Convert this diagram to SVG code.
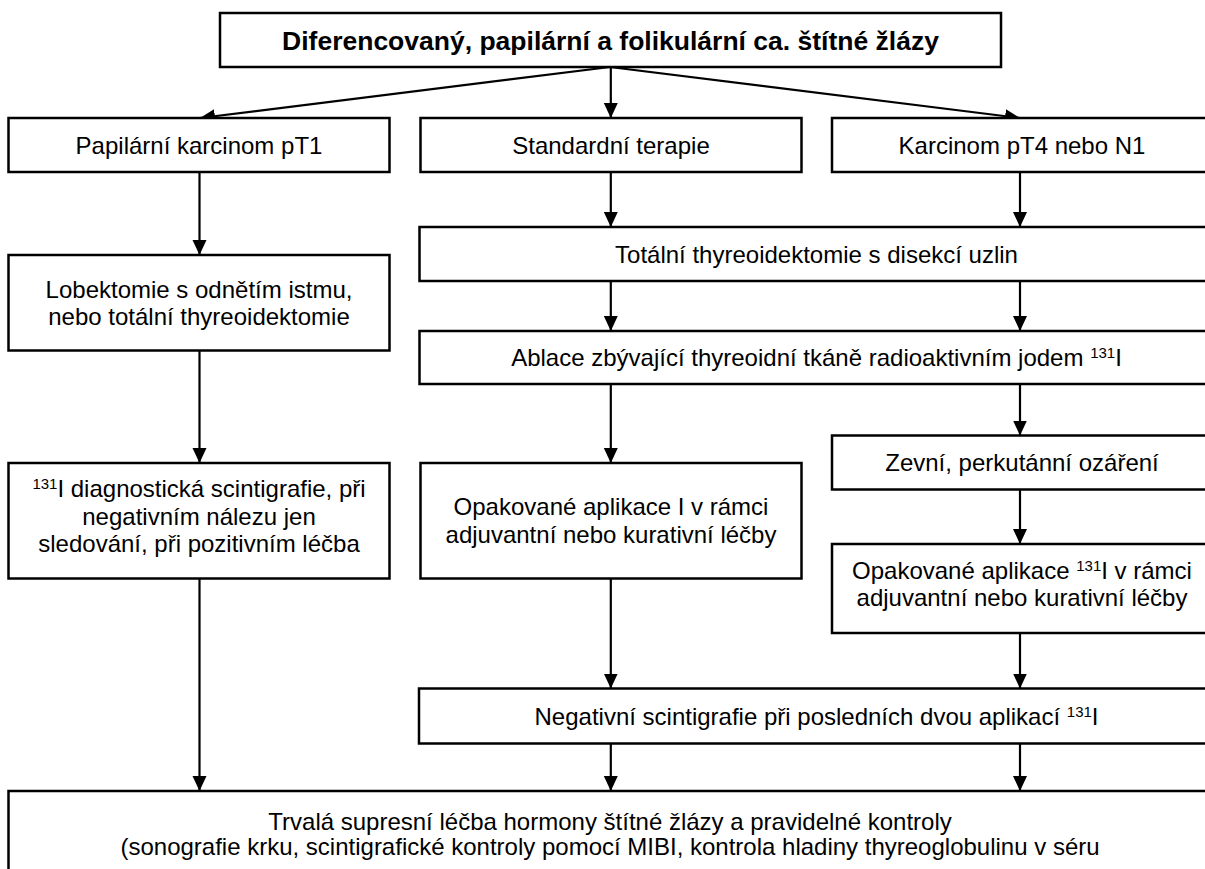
<svg xmlns="http://www.w3.org/2000/svg" width="1205" height="869" viewBox="0 0 1205 869">
<style>
.box{fill:#fff;stroke:#000;stroke-width:2.5}
.t{font-family:"Liberation Sans",Arial,sans-serif;font-size:24px;fill:#000;text-anchor:middle}
.b{font-weight:bold;font-size:26.5px}
.sup{font-size:15px}
.c{stroke:#000;stroke-width:2.2;fill:none;marker-end:url(#ah)}
</style>
<defs>
<marker id="ah" markerUnits="userSpaceOnUse" markerWidth="16" markerHeight="15" refX="15" refY="7" orient="auto">
<path d="M0,0 L15,7 L0,14 z" fill="#000"/>
</marker>
</defs>
<rect width="1205" height="869" fill="#fff"/>
<g id="connectors">
<line class="c" x1="610" y1="67" x2="200" y2="118"/>
<line class="c" x1="610.8" y1="67" x2="610.8" y2="118"/>
<line class="c" x1="610" y1="67" x2="1020" y2="118"/>
<line class="c" x1="199.5" y1="172" x2="199.5" y2="255"/>
<line class="c" x1="610.8" y1="172" x2="610.8" y2="227"/>
<line class="c" x1="1020" y1="172" x2="1020" y2="227"/>
<line class="c" x1="610.8" y1="281" x2="610.8" y2="331"/>
<line class="c" x1="1020" y1="281" x2="1020" y2="331"/>
<line class="c" x1="199.5" y1="350.5" x2="199.5" y2="463"/>
<line class="c" x1="610.8" y1="384" x2="610.8" y2="463"/>
<line class="c" x1="1020" y1="384" x2="1020" y2="435.5"/>
<line class="c" x1="1020" y1="489.5" x2="1020" y2="544"/>
<line class="c" x1="610.8" y1="578.5" x2="610.8" y2="688.5"/>
<line class="c" x1="1020" y1="633" x2="1020" y2="688.5"/>
<line class="c" x1="199.5" y1="578.5" x2="199.5" y2="791"/>
<line class="c" x1="610.8" y1="743.5" x2="610.8" y2="791"/>
<line class="c" x1="1020" y1="743.5" x2="1020" y2="791"/>
</g>
<g id="n-root">
<rect class="box" x="220" y="13" width="781" height="54"/>
<text class="t b" x="610.5" y="49.5">Diferencovaný, papilární a folikulární ca. štítné žlázy</text>
</g>
<g id="n-papilarni">
<rect class="box" x="8.5" y="118" width="381" height="54"/>
<text class="t" x="199" y="154">Papilární karcinom pT1</text>
</g>
<g id="n-standardni">
<rect class="box" x="420.5" y="118" width="381" height="54"/>
<text class="t" x="611" y="154">Standardní terapie</text>
</g>
<g id="n-karcinom">
<rect class="box" x="832" y="118" width="400" height="54"/>
<text class="t" x="1022" y="154">Karcinom pT4 nebo N1</text>
</g>
<g id="n-totalni">
<rect class="box" x="419.5" y="227" width="800" height="54"/>
<text class="t" x="816.5" y="263">Totální thyreoidektomie s disekcí uzlin</text>
</g>
<g id="n-lobektomie">
<rect class="box" x="8.5" y="255" width="381" height="95.5"/>
<text class="t" x="199" y="297.5">Lobektomie s odnětím istmu,</text>
<text class="t" x="199" y="325">nebo totální thyreoidektomie</text>
</g>
<g id="n-ablace">
<rect class="box" x="419.5" y="331" width="800" height="53"/>
<text class="t" x="816.5" y="366">Ablace zbývající thyreoidní tkáně radioaktivním jodem <tspan class="sup" dy="-8">131</tspan><tspan dy="8">I</tspan></text>
</g>
<g id="n-diagnosticka">
<rect class="box" x="8.5" y="463" width="381" height="115.5"/>
<text class="t" x="199" y="497"><tspan class="sup" dy="-8">131</tspan><tspan dy="8">I diagnostická scintigrafie, při</tspan></text>
<text class="t" x="199" y="524.5">negativním nálezu jen</text>
<text class="t" x="199" y="552">sledování, při pozitivním léčba</text>
</g>
<g id="n-opakovane-stred">
<rect class="box" x="420.5" y="463" width="381" height="115.5"/>
<text class="t" x="611" y="515">Opakované aplikace I v rámci</text>
<text class="t" x="611" y="543">adjuvantní nebo kurativní léčby</text>
</g>
<g id="n-zevni">
<rect class="box" x="832" y="435.5" width="400" height="54"/>
<text class="t" x="1022" y="471">Zevní, perkutánní ozáření</text>
</g>
<g id="n-opakovane-vpravo">
<rect class="box" x="832" y="544" width="400" height="89"/>
<text class="t" x="1022" y="579">Opakované aplikace <tspan class="sup" dy="-8">131</tspan><tspan dy="8">I v rámci</tspan></text>
<text class="t" x="1022" y="606">adjuvantní nebo kurativní léčby</text>
</g>
<g id="n-negativni">
<rect class="box" x="419" y="688.5" width="800" height="55"/>
<text class="t" x="816.5" y="725">Negativní scintigrafie při posledních dvou aplikací <tspan class="sup" dy="-8">131</tspan><tspan dy="8">I</tspan></text>
</g>
<g id="n-trvala">
<rect class="box" x="8.5" y="791" width="1220" height="120"/>
<text class="t" x="610" y="829.5">Trvalá supresní léčba hormony štítné žlázy a pravidelné kontroly</text>
<text class="t" x="610" y="855">(sonografie krku, scintigrafické kontroly pomocí MIBI, kontrola hladiny thyreoglobulinu v séru</text>
</g>
</svg>
